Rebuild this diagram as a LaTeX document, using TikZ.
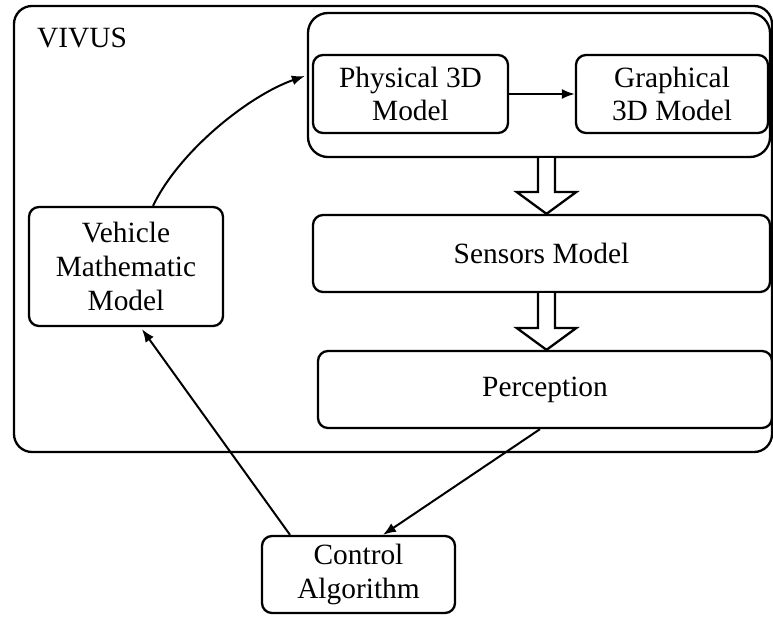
\documentclass[tikz,border=0pt]{standalone}
\usepackage{fontspec}
\setmainfont{Liberation Serif}
\usetikzlibrary{arrows.meta,calc}
\begin{document}
\begin{tikzpicture}[x=1bp,y=-1bp,
  every node/.style={font=\fontsize{29.5}{34}\selectfont, inner sep=0pt},
  box/.style={draw, line width=2.3bp, rounded corners=10bp, align=center},
  arr/.style={line width=2bp, -{Latex[length=13bp,width=10bp]}},
  blk/.style={draw, line width=2.3bp, fill=white, line join=miter}]
\useasboundingbox (0,0) rectangle (773,617);
% outer VIVUS box
\node[box, rounded corners=18bp, minimum width=758bp, minimum height=446bp] (vivus) at (393,229) {};
\node[anchor=base west] (lbl) at (37,48) {VIVUS};
% group of 3D models
\node[box, rounded corners=20bp, minimum width=462bp, minimum height=144bp] (group) at (539,85) {};
\node[box, minimum width=195bp, minimum height=78bp] (phys) at (410.5,94) {Physical 3D\\Model};
\node[box, minimum width=192bp, minimum height=78bp] (graph) at (672,94) {Graphical\\3D Model};
\node[box, minimum width=457bp, minimum height=77bp] (sens) at (541.5,253.5) {Sensors Model};
\node[box, minimum width=454bp, minimum height=77bp] (perc) at (545,389.5) {Perception};
\node[box, minimum width=194bp, minimum height=119bp] (veh) at (126,266.5) {Vehicle\\Mathematic\\Model};
\node[box, minimum width=193bp, minimum height=77bp] (ctrl) at (358.5,574.5) {Control\\Algorithm};
% block arrows
\coordinate (ba) at (546.5,0);
\draw[blk] let \p1=(ba |- group.south), \p2=(ba |- sens.north) in
  (\x1-8.5,\y1) -- (\x1-8.5,\y2+22) -- (\x1-30,\y2+22) -- (\x2,\y2) -- (\x1+30,\y2+22) -- (\x1+8.5,\y2+22) -- (\x1+8.5,\y1);
\draw[blk] let \p1=(ba |- sens.south), \p2=(ba |- perc.north) in
  (\x1-8.5,\y1) -- (\x1-8.5,\y2+22) -- (\x1-30,\y2+22) -- (\x2,\y2) -- (\x1+30,\y2+22) -- (\x1+8.5,\y2+22) -- (\x1+8.5,\y1);
% connectors
\draw[arr] (phys.east) -- (graph.west);
\draw[arr] ([xshift=27bp]veh.north) .. controls (180,150) and (250,95) .. ([xshift=-2bp,yshift=9bp]group.west);
\draw[arr] ([xshift=-5bp]perc.south) -- ([xshift=24.5bp]ctrl.north);
\draw[arr] ([xshift=-68.5bp]ctrl.north) -- ([xshift=16bp,yshift=-2bp]veh.south);
\end{tikzpicture}
\end{document}
